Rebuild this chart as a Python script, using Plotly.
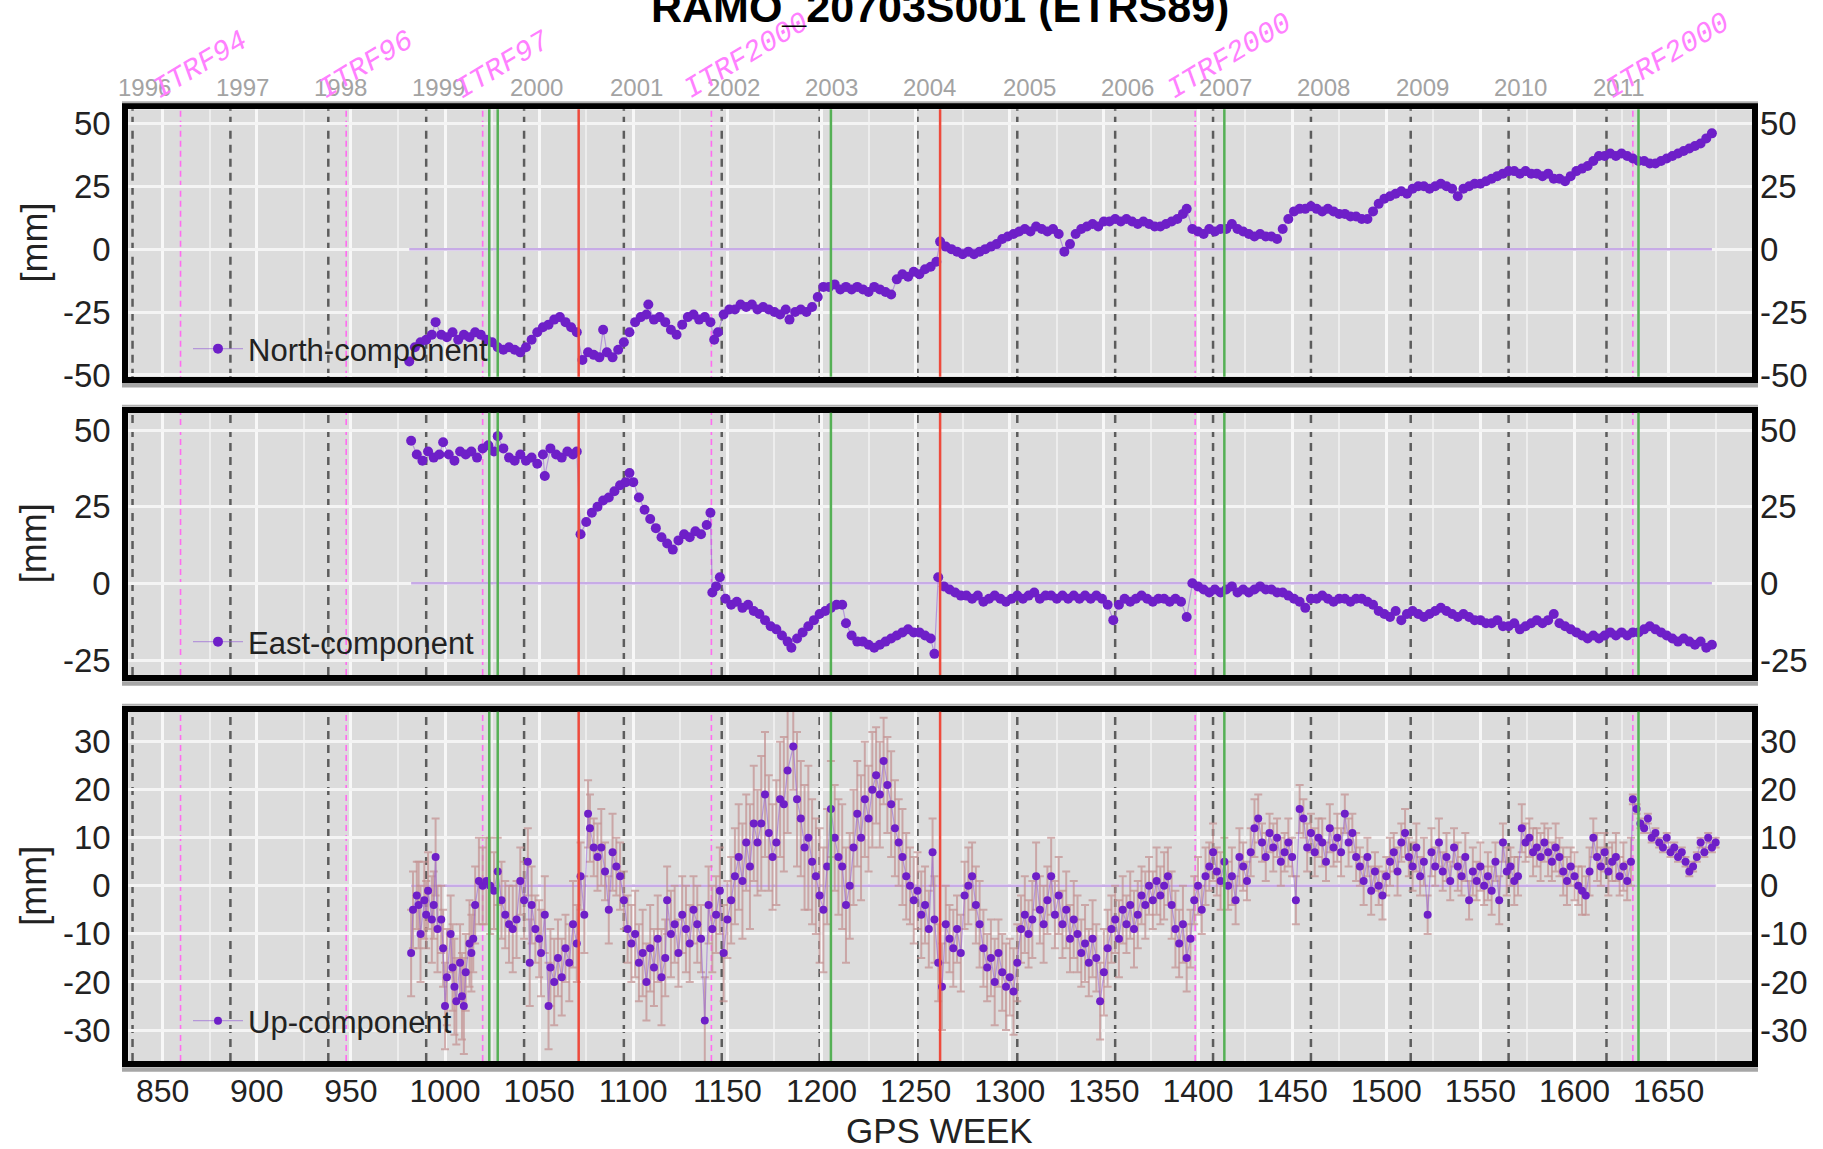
import plotly.graph_objects as go

W, H = 1823, 1149

# ---------------- data ----------------
north_week = [
    981, 984, 987, 990, 993, 995, 998, 1001, 1004, 1007,
    1010, 1013, 1016, 1019, 1022, 1025, 1028, 1031, 1034, 1037,
    1040, 1043, 1046, 1049, 1052, 1055, 1058, 1061, 1064, 1067,
    1070,
    1073, 1076, 1079, 1082, 1084, 1086, 1089, 1092, 1095, 1098,
    1101, 1104, 1107, 1108, 1111, 1114, 1117, 1120, 1123, 1126,
    1129, 1132, 1135, 1138, 1141, 1143, 1145, 1148, 1151, 1154,
    1157, 1160, 1163, 1166, 1169, 1172, 1175, 1178, 1181, 1183,
    1186, 1189, 1192, 1195, 1198, 1201, 1204, 1207, 1210, 1213,
    1216, 1219, 1222, 1225, 1228, 1231, 1234, 1237, 1240, 1243,
    1246, 1249, 1252, 1255, 1258, 1261,
    1263, 1266, 1269, 1272, 1275, 1278, 1281, 1284, 1287, 1290,
    1293, 1296, 1299, 1302, 1305, 1308, 1311, 1314, 1317, 1320,
    1323, 1326, 1329, 1332, 1335, 1338, 1341, 1344, 1347, 1350,
    1353, 1356, 1359, 1362, 1365, 1368, 1371, 1374, 1377, 1380,
    1383, 1386, 1389, 1392, 1394, 1397,
    1400, 1403, 1406, 1409, 1412, 1415, 1418, 1421, 1424, 1427,
    1430, 1433, 1436, 1439, 1442, 1445, 1448, 1451, 1454, 1457,
    1460, 1463, 1466, 1469, 1472, 1475, 1478, 1481, 1484, 1487,
    1490, 1493, 1496, 1499, 1502, 1505, 1508, 1511, 1514, 1517,
    1520, 1523, 1526, 1529, 1532, 1535, 1538, 1541, 1544, 1547,
    1550, 1553, 1556, 1559, 1562, 1565, 1568, 1571, 1574, 1577,
    1580, 1583, 1586, 1589, 1592, 1595, 1598, 1601, 1604, 1607,
    1610, 1613, 1616, 1619, 1622, 1625, 1628, 1631, 1634, 1637,
    1640, 1643, 1646, 1649, 1652, 1655, 1658, 1661, 1664, 1667,
    1670, 1673,
]
north_mm = [
    -44.6, -39, -37, -36, -34, -29, -34, -35, -33, -36,
    -34, -35, -33, -34, -36, -37, -39, -40, -39, -40,
    -41, -39, -36, -33, -31, -30, -28, -27, -29, -31,
    -33,
    -44, -41, -42, -43, -32, -41, -43, -40, -37, -33,
    -29, -27, -26, -22, -28, -27, -29, -32, -34, -30,
    -27, -26, -28, -27, -29, -36, -33, -26, -24, -24,
    -22, -23, -22, -24, -23, -24, -25, -26, -24, -28,
    -25, -24, -25, -23, -19, -15, -15, -14, -16, -15,
    -16, -15, -16, -17, -15, -16, -17, -18, -12, -10,
    -11, -9, -10, -8, -7, -5,
    3, 1, 0, -1, -2, -1, -2, -1, 0, 1,
    2, 4, 5, 6, 7, 8, 7, 9, 8, 7,
    8, 6, -1, 2, 6, 8, 9, 10, 9, 11,
    11, 12, 11, 12, 11, 10, 11, 10, 9, 9,
    10, 11, 12, 14, 16, 8,
    7, 6, 8, 7, 8, 8, 10, 8, 7, 6,
    5, 6, 5, 5, 4, 8, 12, 15, 16, 16,
    17, 16, 15, 16, 15, 14, 14, 13, 13, 12,
    12, 15, 18, 20, 21, 22, 23, 22, 24, 25,
    25, 24, 25, 26, 25, 24, 21, 24, 25, 26,
    26, 27, 28, 29, 30, 31, 31, 30, 31, 30,
    30, 29, 30, 28, 28, 27, 29, 31, 32, 33,
    35, 37, 37, 38, 37, 38, 37, 36, 35, 35,
    34, 34, 35, 36, 37, 38, 39, 40, 41, 42,
    44, 46,
]

east_week = [
    982, 985, 988, 991, 994, 997, 999, 1002, 1005, 1008,
    1011, 1014, 1017, 1020, 1023, 1026, 1028, 1031, 1034, 1037,
    1040, 1043, 1046, 1049, 1052, 1053, 1056, 1059, 1062, 1065,
    1068, 1070,
    1072, 1075, 1078, 1081, 1084, 1087, 1090, 1093, 1096, 1098,
    1100, 1103, 1106, 1109, 1112, 1115, 1118, 1121, 1124, 1127,
    1130, 1133, 1136, 1139, 1141,
    1142, 1144, 1146, 1149, 1152, 1155, 1158, 1161, 1164, 1167,
    1170, 1173, 1176, 1179, 1182, 1184, 1187, 1190, 1193, 1196,
    1199, 1202, 1205, 1208, 1211, 1213, 1216, 1219, 1222, 1225,
    1228, 1231, 1234, 1237, 1240, 1243, 1246, 1249, 1252, 1255,
    1258, 1260,
    1262, 1265, 1268, 1271, 1274, 1277, 1280, 1283, 1286, 1289,
    1292, 1295, 1298, 1301, 1304, 1307, 1310, 1313, 1316, 1319,
    1322, 1325, 1328, 1331, 1334, 1337, 1340, 1343, 1346, 1349,
    1352, 1355, 1358, 1361, 1364, 1367, 1370, 1373, 1376, 1379,
    1382, 1385, 1388, 1391, 1394,
    1397, 1400, 1403, 1406, 1409, 1412, 1415, 1418, 1421, 1424,
    1427, 1430, 1433, 1436, 1439, 1442, 1445, 1448, 1451, 1454,
    1457, 1460, 1463, 1466, 1469, 1472, 1475, 1478, 1481, 1484,
    1487, 1490, 1493, 1496, 1499, 1502, 1505, 1508, 1511, 1514,
    1517, 1520, 1523, 1526, 1529, 1532, 1535, 1538, 1541, 1544,
    1547, 1550, 1553, 1556, 1559, 1562, 1565, 1568, 1571, 1574,
    1577, 1580, 1583, 1586, 1589, 1592, 1595, 1598, 1601, 1604,
    1607, 1610, 1613, 1616, 1619, 1622, 1625, 1628, 1631, 1634,
    1637, 1640, 1643, 1646, 1649, 1652, 1655, 1658, 1661, 1664,
    1667, 1670, 1673,
]
east_mm = [
    46.5, 42, 40, 43, 41, 42, 46, 42, 40, 43,
    42, 43, 41, 44, 45, 43, 48, 44, 41, 40,
    42, 40, 41, 39, 42, 35, 44, 42, 41, 43,
    42, 43,
    16, 20, 23, 25, 27, 28, 30, 32, 33, 36,
    33, 28, 24, 21, 18, 15, 13, 11, 14, 16,
    15, 17, 16, 19, 23,
    -3, -1, 2, -5, -7, -6, -8, -7, -9, -10,
    -12, -14, -15, -17, -19, -21, -18, -16, -14, -12,
    -10, -9, -8, -7, -7, -13, -17, -19, -19, -20,
    -21, -20, -19, -18, -17, -16, -15, -16, -16, -17,
    -18, -23,
    2, -1, -2, -3, -4, -4, -5, -4, -6, -5,
    -4, -5, -6, -5, -4, -5, -4, -3, -5, -4,
    -4, -5, -4, -5, -4, -5, -4, -5, -4, -5,
    -7, -12, -7, -5, -6, -5, -4, -5, -6, -5,
    -5, -6, -5, -6, -11,
    0, -1, -2, -3, -2, -3, -2, -1, -3, -2,
    -3, -2, -1, -2, -2, -3, -3, -4, -5, -6,
    -8, -5, -5, -4, -5, -6, -5, -5, -6, -5,
    -5, -6, -7, -9, -10, -11, -9, -12, -10, -9,
    -10, -11, -10, -9, -8, -9, -10, -11, -10, -11,
    -12, -12, -13, -13, -12, -14, -14, -13, -15, -14,
    -13, -12, -13, -12, -10, -13, -14, -15, -16, -17,
    -18, -17, -18, -17, -16, -17, -16, -17, -16, -16,
    -15, -14, -15, -16, -17, -18, -19, -18, -19, -20,
    -19, -21, -20,
]

up_week = [
    982, 983, 985, 986, 987, 989, 990, 991, 993, 994,
    995, 996, 998, 999, 1000, 1001, 1003, 1004, 1005, 1006,
    1008, 1009, 1010, 1011, 1013, 1014, 1015, 1016, 1018, 1020,
    1022, 1024, 1026, 1028, 1030, 1032, 1034, 1036, 1038, 1040,
    1042, 1044, 1045, 1046, 1048, 1050, 1051, 1053, 1055, 1056,
    1058, 1060, 1062, 1064, 1066, 1068, 1070, 1072, 1074, 1076,
    1077, 1079, 1081, 1083, 1085, 1087, 1089, 1091, 1093, 1095,
    1097, 1099, 1101, 1103, 1105, 1107, 1109, 1111, 1113, 1115,
    1117, 1118, 1120, 1122, 1124, 1126, 1128, 1130, 1132, 1134,
    1136, 1138, 1140, 1142, 1144, 1146, 1148, 1150, 1152, 1154,
    1156, 1158, 1160, 1162, 1164, 1166, 1168, 1170, 1172, 1174,
    1176, 1178, 1180, 1182, 1185, 1187, 1189, 1191, 1193, 1195,
    1197, 1199, 1201, 1203, 1205, 1207, 1209, 1211, 1213, 1215,
    1217, 1219, 1221, 1223, 1225, 1227, 1229, 1231, 1233, 1235,
    1237, 1239, 1241, 1243, 1245, 1247, 1249, 1251, 1253, 1255,
    1257, 1259, 1260, 1262, 1264, 1266, 1268, 1270, 1272, 1274,
    1276, 1278, 1280, 1282, 1284, 1286, 1288, 1290, 1292, 1294,
    1296, 1298, 1300, 1302, 1304, 1306, 1308, 1310, 1312, 1314,
    1316, 1318, 1320, 1322, 1324, 1326, 1328, 1330, 1332, 1334,
    1336, 1338, 1340, 1342, 1344, 1346, 1348, 1350, 1352, 1354,
    1356, 1358, 1360, 1362, 1364, 1366, 1368, 1370, 1372, 1374,
    1376, 1378, 1380, 1382, 1384, 1386, 1388, 1390, 1392, 1394,
    1396, 1398, 1400, 1402, 1404, 1406, 1408, 1410, 1412, 1414,
    1416, 1418, 1420, 1422, 1424, 1426, 1428, 1430, 1432, 1434,
    1436, 1438, 1440, 1442, 1444, 1446, 1448, 1450, 1452, 1454,
    1456, 1458, 1460, 1462, 1464, 1466, 1468, 1470, 1472, 1474,
    1476, 1478, 1480, 1482, 1484, 1486, 1488, 1490, 1492, 1494,
    1496, 1498, 1500, 1502, 1504, 1506, 1508, 1510, 1512, 1514,
    1516, 1518, 1520, 1522, 1524, 1526, 1528, 1530, 1532, 1534,
    1536, 1538, 1540, 1542, 1544, 1546, 1548, 1550, 1552, 1554,
    1556, 1558, 1560, 1562, 1564, 1566, 1568, 1570, 1572, 1574,
    1576, 1578, 1580, 1582, 1584, 1586, 1588, 1590, 1592, 1594,
    1596, 1598, 1600, 1602, 1604, 1606, 1608, 1610, 1612, 1614,
    1616, 1618, 1620, 1622, 1624, 1626, 1628, 1630, 1631, 1633,
    1635, 1637, 1639, 1641, 1643, 1645, 1647, 1649, 1651, 1653,
    1655, 1657, 1659, 1661, 1663, 1665, 1667, 1669, 1671, 1673,
    1675,
]
up_mm = [
    -14, -5, -2, -4, -10, -3, -6, -1, -7, -4,
    6, -9, -7, -13, -25, -19, -10, -17, -21, -24,
    -16, -23, -25, -18, -12, -14, -11, -4, 1, 0,
    1, 0, -1, 3, -3, -6, -8, -9, -7, 1,
    -3, 5, -16, -4, -9, -11, -14, -6, -25, -17,
    -20, -15, -19, -13, -16, -8, -12, 2, -6, 15,
    12, 8, 6, 8, 3, -5, 7, 4, 2, -3,
    -9, -12, -10, -16, -14, -20, -13, -17, -11, -19,
    -15, -3, -10, -8, -14, -6, -9, -12, -5, -8,
    -11, -28, -4, -9, -6, -1, -14, -7, -3, 2,
    6, 1, 9, 4, 13, 9, 13, 19, 11, 6,
    9, 18, 17, 24, 29, 18, 14, 8, 10, 5,
    2, -2, -5, 4, 16, 10, 6, 4, -4, 0,
    8, 15, 10, 18, 14, 20, 23, 19, 26, 21,
    17, 12, 9, 6, 2, 0, -3, -1, -6, -4,
    -9, 7, -7, -16, -21, -8, -11, -13, -9, -14,
    -2, 0, 2, -4, -8, -13, -17, -15, -20, -14,
    -18, -21, -19, -22, -16, -9, -6, -10, -7, 2,
    -5, -8, -3, 2, -6, -2, -8, -5, -11, -7,
    -10, -14, -12, -16, -11, -15, -24, -18, -13, -9,
    -7, -11, -5, -8, -4, -9, -6, -2, -4, 0,
    -3, 1, -2, 0, 2, -4, -9, -12, -8, -15,
    -11, -3, 0, -5, 2, 4, 7, 3, 1, 5,
    0, 2, -3, 6, 4, 1, 7, 12, 14, 9,
    6, 11, 8, 10, 5, 7, 9, 6, -3, 16,
    14, 8, 11, 7, 10, 9, 5, 12, 8, 10,
    7, 15, 9, 11, 6, 4, 1, 6, -1, 3,
    0, -2, 2, 5, 7, 3, 9, 11, 6, 4,
    8, 2, 5, -6, 7, 4, 9, 3, 6, 1,
    8, 4, 2, 6, -3, 3, 1, 4, 0, 2,
    -1, 5, -3, 9, 3, 4, 1, 2, 12, 9,
    10, 7, 8, 6, 9, 7, 5, 8, 6, 3,
    1, 4, 2, 0, -1, -2, 3, 10, 6, 4,
    7, 3, 5, 6, 2, 4, 1, 5, 18, 16,
    13, 12, 14, 10, 11, 9, 8, 10, 7, 8,
    6, 7, 5, 3, 4, 6, 9, 7, 10, 8,
    9,
]
up_err = [
    9, 8, 7, 9, 10, 8, 7, 8, 9, 7,
    8, 9, 7, 8, 9, 10, 8, 9, 10, 9,
    8, 9, 10, 8, 9, 8, 7, 8, 9, 8,
    9, 10, 8, 7, 8, 7, 8, 9, 8, 7,
    8, 7, 9, 8, 7, 8, 9, 8, 9, 8,
    9, 8, 8, 7, 8, 9, 8, 7, 8, 7,
    7, 6, 7, 8, 6, 7, 8, 6, 7, 6,
    7, 8, 9, 8, 9, 8, 9, 8, 9, 10,
    8, 7, 9, 8, 7, 8, 9, 8, 7, 8,
    7, 9, 8, 9, 8, 9, 10, 8, 9, 10,
    11, 12, 10, 13, 12, 11, 14, 13, 12, 11,
    13, 12, 14, 13, 9, 14, 12, 13, 15, 13,
    12, 14, 13, 12, 10, 11, 12, 13, 12, 11,
    12, 11, 13, 12, 11, 12, 10, 11, 9, 10,
    11, 10, 9, 10, 9, 8, 9, 8, 9, 8,
    8, 7, 9, 8, 9, 8, 7, 8, 7, 8,
    7, 8, 7, 8, 9, 8, 7, 8, 9, 7,
    8, 9, 8, 9, 8, 7, 8, 7, 8, 7,
    7, 8, 7, 8, 7, 8, 7, 8, 7, 8,
    8, 7, 8, 7, 8, 7, 8, 9, 8, 7,
    7, 8, 7, 6, 7, 8, 7, 6, 7, 6,
    6, 7, 6, 7, 6, 7, 8, 7, 8, 7,
    6, 5, 6, 5, 6, 5, 6, 5, 6, 5,
    5, 6, 5, 6, 5, 4, 5, 6, 5, 4,
    5, 4, 5, 4, 5, 4, 5, 4, 5, 5,
    4, 5, 4, 5, 4, 5, 4, 5, 4, 5,
    5, 4, 5, 4, 5, 4, 5, 4, 5, 4,
    4, 5, 4, 5, 4, 5, 4, 5, 4, 5,
    5, 4, 5, 4, 5, 4, 5, 4, 5, 4,
    4, 5, 4, 5, 4, 5, 4, 5, 4, 5,
    5, 4, 5, 4, 5, 4, 5, 4, 5, 4,
    4, 5, 4, 5, 4, 5, 4, 5, 4, 5,
    5, 4, 5, 4, 5, 4, 5, 4, 5, 4,
    4, 5, 4, 5, 4, 5, 4, 5, 1, 1,
    1, 1, 1, 1, 1, 1, 1, 1, 1, 1,
    1, 1, 1, 1, 1, 1, 1, 1, 1, 1,
    1,
]

year_labels = ["1996", "1997", "1998", "1999", "2000", "2001", "2002", "2003",
               "2004", "2005", "2006", "2007", "2008", "2009", "2010", "2011"]
year_start_week = [834, 886, 938, 990, 1042, 1095, 1147, 1199,
                   1251, 1304, 1356, 1408, 1460, 1513, 1565, 1617]
itrf_labels = ["ITRF94", "ITRF96", "ITRF97", "ITRF2000", "ITRF2000", "ITRF2000"]
itrf_week = [859.5, 947.5, 1020, 1141.5, 1398.5, 1631]
green_week = [1023.5, 1028, 1205, 1414, 1634]
red_week = [1071, 1263]
x_tickvals = [850, 900, 950, 1000, 1050, 1100, 1150, 1200, 1250, 1300,
              1350, 1400, 1450, 1500, 1550, 1600, 1650]
north_ticks = [-50, -25, 0, 25, 50]
east_ticks = [-25, 0, 25, 50]
up_ticks = [-30, -20, -10, 0, 10, 20, 30]

# ---------------- styling ----------------
SANS = "Liberation Sans, Arial, sans-serif"
PURPLE = "#6e1fc8"
LINE_PURPLE = "rgba(150,95,215,0.55)"
ZERO_PURPLE = "#c7abe6"
FRAME_W = 6


def px_x(v):
    return v / W


def px_y(v):
    return 1 - v / H


# inner edges of the black frames (axis lines are drawn just outside)
X_DOM = [px_x(128.2), px_x(1752)]
X_RANGE = [831.7, 1694.3]

panels = [
    dict(top=109.3, bot=376.7, rng=[-50.68, 55.56], ticks=north_ticks,
         week=north_week, mm=north_mm, name="North-component", leg_y=349),
    dict(top=412.7, bot=675, rng=[-29.89, 55.64], ticks=east_ticks,
         week=east_week, mm=east_mm, name="East-component", leg_y=642),
    dict(top=711.7, bot=1061, rng=[-36.45, 36.24], ticks=up_ticks,
         week=up_week, mm=up_mm, name="Up-component", leg_y=1021),
]

fig = go.Figure()
layout = dict(
    width=W, height=H, autosize=False,
    margin=dict(l=0, r=0, t=0, b=0, autoexpand=False),
    paper_bgcolor="white", plot_bgcolor="#dcdcdc",
    font=dict(family=SANS, color="#222"),
    showlegend=True,
)
shapes = []
annotations = []

for i, p in enumerate(panels):
    n = i + 1
    xa = "x" if n == 1 else f"x{n}"
    ya = "y" if n == 1 else f"y{n}"
    ya_r = f"y{n + 3}"
    xkey = "xaxis" if n == 1 else f"xaxis{n}"
    ykey = "yaxis" if n == 1 else f"yaxis{n}"
    yrkey = f"yaxis{n + 3}"
    dom = [px_y(p["bot"]), px_y(p["top"])]
    tick_text = [str(t) for t in p["ticks"]]

    layout[xkey] = dict(
        domain=X_DOM, range=X_RANGE, anchor=ya, automargin=False,
        tickvals=x_tickvals, ticktext=[str(t) for t in x_tickvals],
        showticklabels=(n == 3), ticks="",
        tickfont=dict(family=SANS, size=32, color="#222"),
        ticklabelstandoff=-3,
        showgrid=True, gridcolor="#f7f7f7", gridwidth=3,
        minor=dict(dtick=25, tick0=850, showgrid=True, gridcolor="#ededed", gridwidth=2),
        zeroline=False, showline=True, linecolor="black", linewidth=FRAME_W, mirror=True,
    )
    layout[ykey] = dict(
        domain=dom, range=p["rng"], anchor=xa, automargin=False,
        tickvals=p["ticks"], ticktext=tick_text, ticks="",
        tickfont=dict(family=SANS, size=33, color="#222"),
        ticklabelstandoff=5,
        showgrid=True, gridcolor="#f4f4f4", gridwidth=3,
        zeroline=False, showline=True, linecolor="black", linewidth=FRAME_W, mirror=True,
    )
    layout[yrkey] = dict(
        overlaying=ya, side="right", anchor=xa, range=p["rng"], automargin=False,
        tickvals=p["ticks"], ticktext=tick_text, ticks="",
        tickfont=dict(family=SANS, size=33, color="#222"),
        ticklabelstandoff=7,
        showgrid=False, zeroline=False, showline=False,
    )

    # zero reference line over the data span
    fig.add_trace(go.Scatter(
        x=[p["week"][0], p["week"][-1]], y=[0, 0], mode="lines",
        line=dict(color=ZERO_PURPLE, width=2.5),
        xaxis=xa, yaxis=ya, showlegend=False, hoverinfo="skip",
    ))

    trace = dict(
        x=p["week"], y=p["mm"], mode="lines+markers", name=p["name"],
        line=dict(color=LINE_PURPLE, width=1.2),
        marker=dict(color=PURPLE, size=10 if n < 3 else 8),
        xaxis=xa, yaxis=ya,
        legend="legend" if n == 1 else f"legend{n}",
    )
    if n == 3:
        trace["error_y"] = dict(type="data", array=up_err, visible=True,
                                color="rgba(196,146,146,0.72)", thickness=2, width=4)
    fig.add_trace(go.Scatter(**trace))

    # invisible anchor trace so the right-hand axis is drawn
    fig.add_trace(go.Scatter(
        x=[p["week"][0]], y=[0], mode="markers", marker=dict(opacity=0),
        xaxis=xa, yaxis=ya_r, showlegend=False, hoverinfo="skip",
    ))

    lkey = "legend" if n == 1 else f"legend{n}"
    layout[lkey] = dict(
        x=px_x(188), y=px_y(p["leg_y"]), xanchor="left", yanchor="middle",
        bgcolor="rgba(0,0,0,0)", borderwidth=0, itemwidth=50,
        font=dict(family=SANS, size=31, color="#222"),
    )

    yd = f"{ya} domain"
    for wk in year_start_week:
        shapes.append(dict(type="line", xref=xa, yref=yd, x0=wk, x1=wk, y0=0, y1=1,
                           line=dict(color="#5c5c5c", width=2.5, dash="8px,6px"), layer="below"))
    for wk in itrf_week:
        shapes.append(dict(type="line", xref=xa, yref=yd, x0=wk, x1=wk, y0=0, y1=1,
                           line=dict(color="#ff6cf0", width=1.6, dash="6px,4px"), layer="below"))
    for wk in green_week:
        shapes.append(dict(type="line", xref=xa, yref=yd, x0=wk, x1=wk, y0=0, y1=1,
                           line=dict(color="#55b055", width=2.5), layer="above"))
    for wk in red_week:
        shapes.append(dict(type="line", xref=xa, yref=yd, x0=wk, x1=wk, y0=0, y1=1,
                           line=dict(color="#ee4a3c", width=2.5), layer="above"))

    # grey shadow edges of the frame
    shapes.append(dict(type="line", xref="paper", yref="paper",
                       x0=px_x(122), x1=px_x(1758), y0=px_y(p["bot"] + FRAME_W + 2.5),
                       y1=px_y(p["bot"] + FRAME_W + 2.5),
                       line=dict(color="#a6a6a6", width=4.5)))
    shapes.append(dict(type="line", xref="paper", yref="paper",
                       x0=px_x(122), x1=px_x(1758), y0=px_y(p["top"] - FRAME_W - 1),
                       y1=px_y(p["top"] - FRAME_W - 1),
                       line=dict(color="#b0b0b0", width=2)))

    annotations.append(dict(
        text="[mm]", xref="paper", yref="paper", x=px_x(33.5),
        y=px_y((p["top"] + p["bot"]) / 2), textangle=-90, showarrow=False,
        xanchor="center", yanchor="middle",
        font=dict(family=SANS, size=36, color="#222"),
    ))

# top year labels
for lab, wk in zip(year_labels, year_start_week):
    annotations.append(dict(
        text=lab, xref="x", yref="paper", x=wk + 6.5, y=px_y(87),
        showarrow=False, xanchor="center", yanchor="middle",
        font=dict(family=SANS, size=24, color="#a3a3a3"),
    ))

# reference-frame labels
for lab, wk in zip(itrf_labels, itrf_week):
    annotations.append(dict(
        text=lab, xref="x", yref="paper", x=wk, xshift=-36, y=px_y(109),
        showarrow=False, xanchor="left", yanchor="bottom", textangle=-31,
        font=dict(family="Liberation Mono, DejaVu Sans Mono, monospace", size=29,
                  color="#ff80ff", style="italic"),
    ))

annotations.append(dict(
    text="<b>RAMO_20703S001 (ETRS89)</b>", xref="paper", yref="paper",
    x=px_x(939.5), y=px_y(7), showarrow=False, xanchor="center", yanchor="middle",
    font=dict(family=SANS, size=43, color="black"),
))
annotations.append(dict(
    text="GPS WEEK", xref="paper", yref="paper",
    x=px_x(939), y=px_y(1130), showarrow=False, xanchor="center", yanchor="middle",
    font=dict(family=SANS, size=35, color="#222"),
))

layout["shapes"] = shapes
layout["annotations"] = annotations
fig.update_layout(**layout)
# remove the browser's default 8px page margin so the figure sits at the window origin
fig.write_html("out.html", config={"displayModeBar": False},
               post_script="document.body.style.margin = '0px';")
